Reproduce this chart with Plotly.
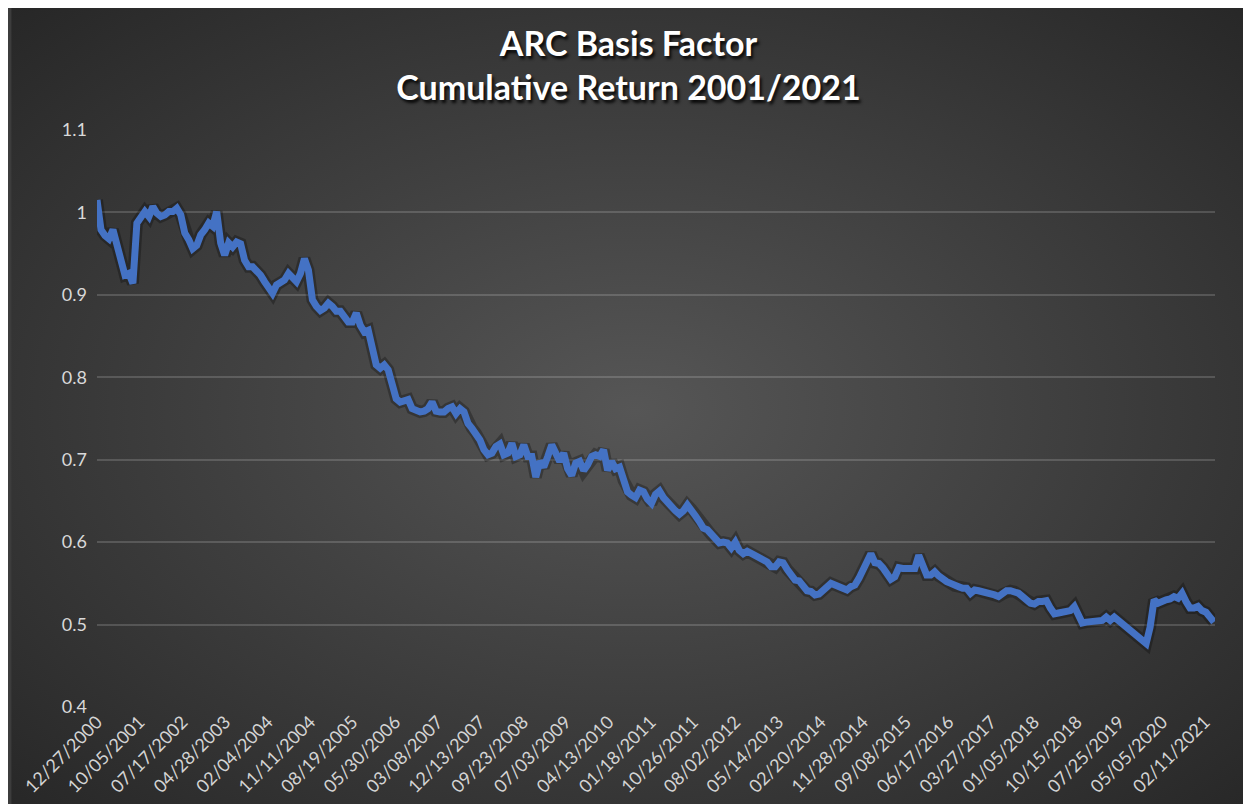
import base64
import pandas as pd
import plotly.graph_objects as go

# ---- data ----
start_date = "2000-12-27"
end_date = "2021-04-13"

values = [
    1.015, 0.979, 0.972, 0.968, 0.979, 0.963, 0.942, 0.924, 0.926, 0.914,
    0.987, 0.993, 1.001, 0.995, 1.007, 0.999, 0.995, 0.997, 1.001, 1.001,
    1.005, 0.997, 0.975, 0.967, 0.956, 0.960, 0.973, 0.979, 0.987, 0.983,
    1.001, 0.963, 0.948, 0.963, 0.958, 0.964, 0.962, 0.942, 0.934, 0.934,
    0.930, 0.924, 0.916, 0.910, 0.902, 0.912, 0.914, 0.918, 0.926, 0.922,
    0.916, 0.926, 0.944, 0.930, 0.894, 0.886, 0.881, 0.884, 0.890, 0.886,
    0.880, 0.880, 0.873, 0.867, 0.867, 0.878, 0.863, 0.855, 0.857, 0.831,
    0.815, 0.811, 0.815, 0.809, 0.788, 0.774, 0.770, 0.772, 0.773, 0.762,
    0.759, 0.758, 0.759, 0.762, 0.770, 0.759, 0.758, 0.758, 0.762, 0.764,
    0.756, 0.762, 0.758, 0.744, 0.738, 0.732, 0.724, 0.712, 0.706, 0.708,
    0.716, 0.719, 0.706, 0.708, 0.720, 0.704, 0.706, 0.718, 0.704, 0.704,
    0.679, 0.698, 0.691, 0.704, 0.718, 0.708, 0.698, 0.708, 0.689, 0.681,
    0.696, 0.698, 0.687, 0.694, 0.704, 0.706, 0.704, 0.712, 0.687, 0.698,
    0.689, 0.691, 0.675, 0.661, 0.657, 0.654, 0.663, 0.661, 0.652, 0.647,
    0.658, 0.662, 0.654, 0.648, 0.641, 0.638, 0.634, 0.638, 0.645, 0.640,
    0.632, 0.625, 0.617, 0.615, 0.609, 0.604, 0.599, 0.600, 0.599, 0.593,
    0.600, 0.590, 0.586, 0.589, 0.586, 0.584, 0.581, 0.579, 0.576, 0.570,
    0.570, 0.576, 0.575, 0.567, 0.562, 0.554, 0.553, 0.546, 0.541, 0.540,
    0.536, 0.537, 0.542, 0.546, 0.550, 0.548, 0.546, 0.543, 0.542, 0.546,
    0.548, 0.556, 0.566, 0.580, 0.586, 0.575, 0.574, 0.569, 0.561, 0.555,
    0.558, 0.569, 0.568, 0.568, 0.567, 0.568, 0.584, 0.574, 0.560, 0.560,
    0.564, 0.559, 0.555, 0.552, 0.550, 0.547, 0.546, 0.544, 0.544, 0.538,
    0.542, 0.541, 0.540, 0.540, 0.538, 0.536, 0.534, 0.537, 0.541, 0.541,
    0.540, 0.538, 0.534, 0.530, 0.526, 0.525, 0.528, 0.528, 0.529, 0.520,
    0.513, 0.514, 0.515, 0.515, 0.517, 0.522, 0.509, 0.502, 0.503, 0.503,
    0.503, 0.503, 0.505, 0.509, 0.505, 0.509, 0.505, 0.499, 0.496, 0.493,
    0.489, 0.485, 0.480, 0.477, 0.497, 0.530, 0.526, 0.529, 0.530, 0.531,
    0.534, 0.532, 0.538, 0.528, 0.520, 0.520, 0.522, 0.517, 0.515, 0.509,
    0.503,
]

dates = pd.date_range(start_date, end_date, periods=len(values))

tick_labels = [
    "12/27/2000", "10/05/2001", "07/17/2002", "04/28/2003", "02/04/2004",
    "11/11/2004", "08/19/2005", "05/30/2006", "03/08/2007", "12/13/2007",
    "09/23/2008", "07/03/2009", "04/13/2010", "01/18/2011", "10/26/2011",
    "08/02/2012", "05/14/2013", "02/20/2014", "11/28/2014", "09/08/2015",
    "06/17/2016", "03/27/2017", "01/05/2018", "10/15/2018", "07/25/2019",
    "05/05/2020", "02/11/2021",
]
tick_dates = pd.to_datetime(tick_labels, format="%m/%d/%Y")

y_ticks = [0.4, 0.5, 0.6, 0.7, 0.8, 0.9, 1.0, 1.1]
y_tick_text = ["0.4", "0.5", "0.6", "0.7", "0.8", "0.9", "1", "1.1"]

title_text = "ARC Basis Factor<br>Cumulative Return 2001/2021"

# ---- figure ----
W, H = 1251, 804
fig = go.Figure()

# soft shadow under the line
fig.add_trace(go.Scatter(
    x=dates, y=values, mode="lines",
    line=dict(color="rgba(0,0,0,0.28)", width=12),
    hoverinfo="skip", showlegend=False,
))
fig.add_trace(go.Scatter(
    x=dates, y=values, mode="lines",
    line=dict(color="#4472C4", width=7),
    name="Cumulative Return", showlegend=False,
))

svg = (
    '<svg xmlns="http://www.w3.org/2000/svg" width="1251" height="804">'
    '<defs><radialGradient id="g" cx="50%" cy="50%" r="72%">'
    '<stop offset="0%" stop-color="#565656"/>'
    '<stop offset="100%" stop-color="#262626"/>'
    '</radialGradient></defs>'
    '<rect width="100%" height="100%" fill="url(#g)"/></svg>'
)
svg_uri = "data:image/svg+xml;base64," + base64.b64encode(svg.encode()).decode()

ML, MR, MT, MB = 86, 44, 122, 105
PW, PH = W - ML - MR, H - MT - MB

fig.update_layout(
    width=W, height=H,
    paper_bgcolor="#3c3c3c",
    plot_bgcolor="rgba(0,0,0,0)",
    margin=dict(l=ML, r=MR, t=MT, b=MB),
    images=[dict(source=svg_uri, xref="paper", yref="paper",
                 x=-ML / PW, y=1 + MT / PH,
                 sizex=W / PW, sizey=H / PH,
                 sizing="stretch", xanchor="left", yanchor="top",
                 layer="below")],
    title=dict(
        text=title_text,
        x=620.5 / W, xanchor="center",
        y=1 - 48 / H, yanchor="middle", yref="container",
        font=dict(family="Lato", size=34, color="white", weight="bold",
                  shadow="2px 3px 3px rgba(0,0,0,0.85)"),
    ),
    font=dict(family="Lato", color="#d9d9d9"),
)

fig.update_xaxes(
    type="date",
    range=[pd.Timestamp("2000-12-27"), pd.Timestamp("2021-04-20")],
    tickvals=tick_dates, ticktext=tick_labels,
    tickangle=-45, tickfont=dict(size=18, color="#d4d4d4"),
    showgrid=False, zeroline=False, showline=False, ticks="",
)
fig.update_yaxes(
    range=[0.4, 1.1], tickvals=y_ticks, ticktext=y_tick_text,
    tickfont=dict(size=18, color="#d9d9d9"),
    showgrid=True, gridcolor="rgba(255,255,255,0.16)", gridwidth=1.5,
    zeroline=False, showline=False, ticks="", ticklabelstandoff=9,
)

fig.write_html("out.html")
